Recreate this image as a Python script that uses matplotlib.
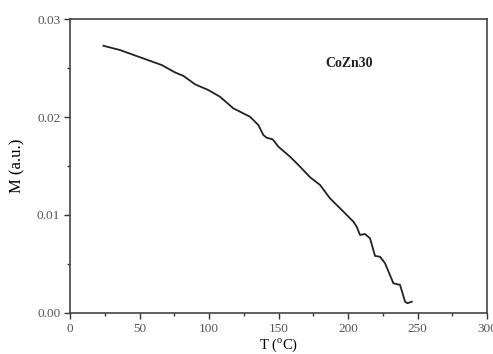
import matplotlib
matplotlib.use("Agg")
import matplotlib.pyplot as plt
from matplotlib.ticker import MultipleLocator

plt.rcParams['font.family'] = ['Liberation Serif', 'DejaVu Serif']
plt.rcParams['mathtext.fontset'] = 'custom'
plt.rcParams['mathtext.rm'] = 'Liberation Serif'

T = [24.0, 36.0, 54.0, 66.0, 75.5, 81.5, 90.0, 99.5, 107.9, 117.5, 129.5, 135.5,
     139.1, 141.5, 145.8, 149.9, 158.3, 165.5, 172.7, 179.9, 187.0, 195.5, 203.8,
     206.2, 208.6, 212.2, 215.8, 219.4, 223.0, 226.6, 232.6, 237.4, 241.0, 242.7, 245.8]
M = [0.02728, 0.02684, 0.02592, 0.02531, 0.02456, 0.02421, 0.02334, 0.02276, 0.02207,
     0.02089, 0.02003, 0.01918, 0.01816, 0.01789, 0.01772, 0.01697, 0.01595, 0.01493,
     0.01385, 0.01306, 0.01170, 0.01051, 0.00932, 0.00881, 0.00796, 0.00806, 0.00762,
     0.00582, 0.00574, 0.00507, 0.00303, 0.00286, 0.00115, 0.00099, 0.00115]
x_ticks = [0, 50, 100, 150, 200, 250, 300]
y_ticks = [0.00, 0.01, 0.02, 0.03]
y_labels = ['0.00', '0.01', '0.02', '0.03']

fig = plt.figure(figsize=(4.93, 3.54), dpi=100)
ax = fig.add_axes([0.142, 0.116, 0.846, 0.830])
ax.plot(T, M, color='#222222', lw=1.3)
ax.set_xlim(0, 300)
ax.set_ylim(0, 0.03)
ax.set_xticks(x_ticks)
ax.set_yticks(y_ticks)
ax.set_yticklabels(y_labels)
ax.xaxis.set_minor_locator(MultipleLocator(25))
ax.yaxis.set_minor_locator(MultipleLocator(0.005))
ax.tick_params(which='both', direction='out', top=False, right=False,
               labelsize=9.5, labelcolor='#555555', color='#333333')
ax.tick_params(which='major', length=4, width=1, pad=3)
ax.tick_params(which='minor', length=2.5, width=1)
for s in ax.spines.values():
    s.set_linewidth(1.2)
    s.set_color('#444444')
ax.set_xlabel('T ($^{\\mathrm{o}}$C)', fontsize=10.5, labelpad=1)
ax.set_ylabel('M (a.u.)', fontsize=12, labelpad=8)
ax.text(201, 0.0255, 'CoZn30', fontsize=10, fontweight='bold', ha='center', va='center',
        color='#222222')
fig.savefig('out.png', dpi=100)
